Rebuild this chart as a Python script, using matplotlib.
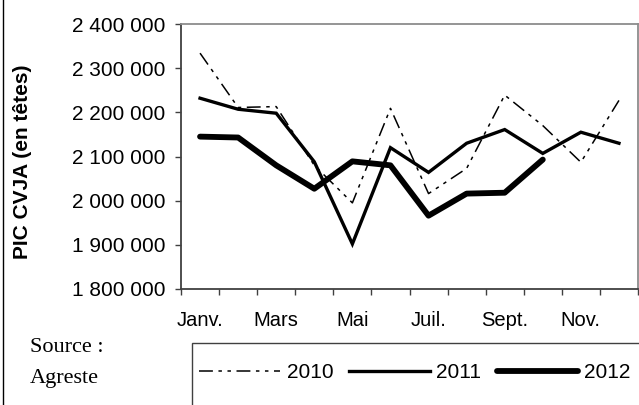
import matplotlib
matplotlib.use("Agg")
import matplotlib.pyplot as plt
from matplotlib.lines import Line2D
from matplotlib.patches import Rectangle
from matplotlib.ticker import FuncFormatter

plt.rcParams['font.family'] = ['Liberation Sans', 'DejaVu Sans']
plt.rcParams['lines.scale_dashes'] = False

months = ['Janv.', 'Févr.', 'Mars', 'Avr.', 'Mai', 'Juin',
          'Juil.', 'Août', 'Sept.', 'Oct.', 'Nov.', 'Déc.']
shown_months = ['Janv.', 'Mars', 'Mai', 'Juil.', 'Sept.', 'Nov.']

v2010 = [2334000, 2211000, 2213000, 2080000, 1995000, 2209000,
         2016000, 2073000, 2239000, 2170000, 2087000, 2227000]
v2011 = [2232000, 2207000, 2198000, 2088000, 1902000, 2120000,
         2064000, 2130000, 2161000, 2107000, 2155000, 2130000]
v2012 = [2145000, 2143000, 2080000, 2027000, 2089000, 2080000,
         1966000, 2016000, 2018000, 2093000]

yticks = [1800000, 1900000, 2000000, 2100000, 2200000, 2300000, 2400000]

fig = plt.figure(figsize=(6.39, 4.05), dpi=100)
ax = fig.add_axes([181 / 639, 1 - 289 / 405, 457 / 639, 265 / 405])

x10 = list(range(len(v2010)))
x11 = list(range(len(v2011)))
x12 = list(range(len(v2012)))

l10, = ax.plot(x10, v2010, color='black', lw=1.1,
               linestyle=(0, (10, 4, 2.5, 4, 2.5, 4)), label='2010')
l11, = ax.plot(x11, v2011, color='black', lw=2.4, label='2011',
               solid_joinstyle='miter')
l12, = ax.plot(x12, v2012, color='black', lw=4.2, label='2012',
               solid_capstyle='round', solid_joinstyle='round')

ax.set_xlim(-0.5, 11.5)
ax.set_ylim(1800000, 2400000)

# major ticks at month boundaries, labels on every other month
ax.set_xticks([i - 0.5 for i in range(13)])
ax.set_xticklabels([])
ax.set_xticks([months.index(m) for m in shown_months], minor=True)
ax.set_xticklabels(shown_months, minor=True)
ax.tick_params(axis='x', which='major', direction='out', length=4,
               width=1, color='#404040')
ax.tick_params(axis='x', which='minor', length=0, pad=16, labelsize=14.5)

ax.set_yticks(yticks)
ax.yaxis.set_major_formatter(FuncFormatter(
    lambda v, p: f"{int(v):,}".replace(',', ' ')))
ax.tick_params(axis='y', direction='out', length=4, width=1,
               color='#404040', pad=7, labelsize=15)

for side in ['left', 'bottom']:
    ax.spines[side].set_color('#404040')
    ax.spines[side].set_linewidth(1.3)
for side in ['top', 'right']:
    ax.spines[side].set_color('#8c8c8c')
    ax.spines[side].set_linewidth(1.3)

ax.set_ylabel('PIC CVJA (en têtes)', fontsize=15, fontweight='bold')
ax.yaxis.set_label_coords(-0.325, 0.479)

# legend box running off the figure
fig.patches.append(Rectangle((192 / 639, -0.1), 1.0, 0.1 + 1 - 343 / 405,
                             transform=fig.transFigure, fill=False,
                             edgecolor='#404040', lw=1.0))
fig.legend(handles=[l10, l11, l12], loc='center left',
           bbox_to_anchor=(199 / 639, 1 - 373 / 405), ncol=3,
           frameon=False, fontsize=15, handlelength=3.9,
           handletextpad=0.3, columnspacing=0.75, borderpad=0,
           borderaxespad=0)

fig.text(30 / 639, 1 - 352 / 405, 'Source :', family='Liberation Serif',
         fontsize=16, va='baseline')
fig.text(30 / 639, 1 - 383 / 405, 'Agreste', family='Liberation Serif',
         fontsize=16, va='baseline')

fig.lines.append(Line2D([2.5 / 639, 2.5 / 639], [0, 1],
                        transform=fig.transFigure, color='black', lw=1))

fig.savefig('out.png', dpi=100)
